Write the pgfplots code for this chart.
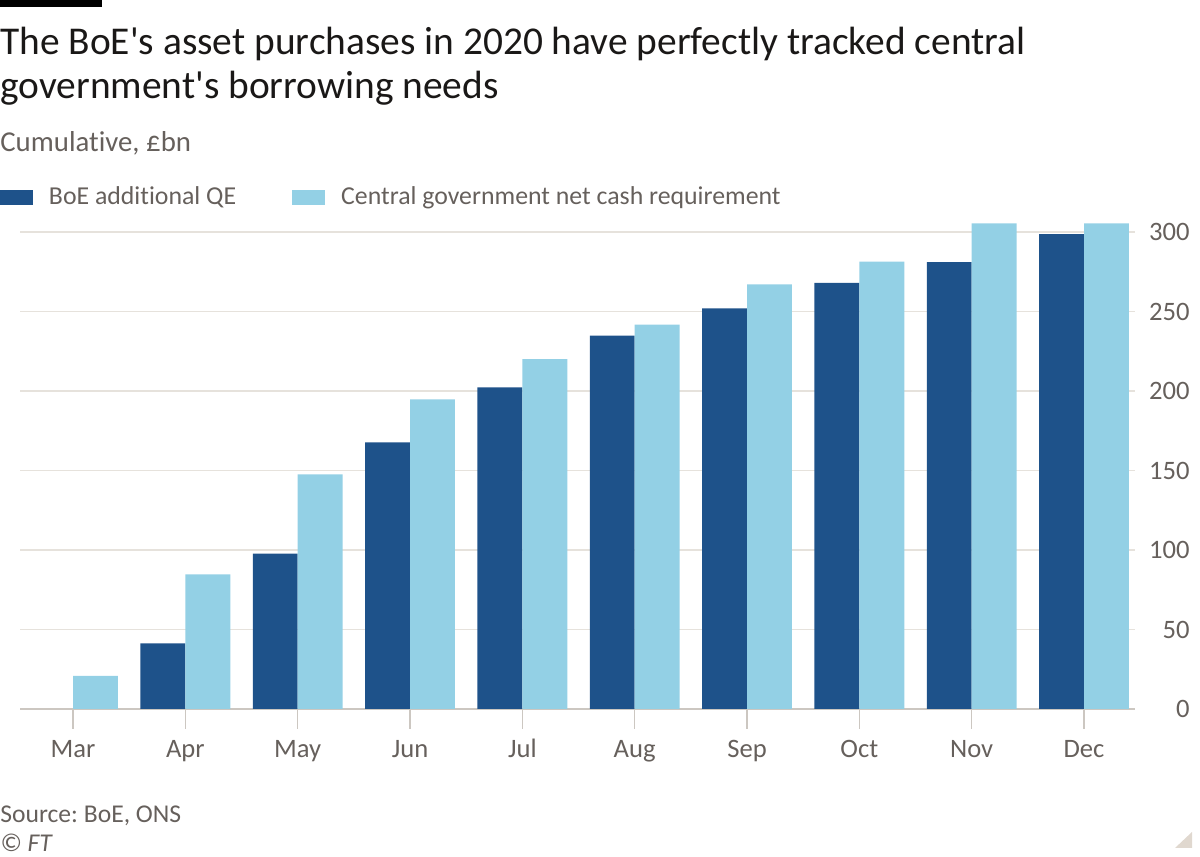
\documentclass[border=0pt]{standalone}
\usepackage{pgfplots}
\pgfplotsset{compat=1.18}
\usepackage{fontspec}
\setmainfont{Carlito}[Ligatures={NoCommon}]
\frenchspacing
\definecolor{qe}{HTML}{1E528A}
\definecolor{cash}{HTML}{93D0E5}
\definecolor{ftgrey}{HTML}{66605C}
\definecolor{ftblack}{HTML}{1A1817}
\definecolor{gridc}{HTML}{E6E2DC}
\definecolor{axisc}{HTML}{CCC7C1}
\definecolor{cornerc}{HTML}{E0D8CF}
\begin{document}
\begin{tikzpicture}
\useasboundingbox (0,0) rectangle (600pt,428.5pt);
\fill[black] (0pt,425pt) rectangle (51pt,428.5pt);
\node[anchor=base west, inner sep=0pt, font=\fontsize{19.7}{24}\selectfont, text=ftblack] at (0pt,401pt) {The BoE\textquotesingle s asset purchases in 2020 have perfectly tracked central};
\node[anchor=base west, inner sep=0pt, font=\fontsize{19.7}{24}\selectfont, text=ftblack] at (0pt,379.35pt) {government\textquotesingle s borrowing needs};
\node[anchor=base west, inner sep=0pt, font=\fontsize{14.4}{17}\selectfont, text=ftgrey] at (0pt,352.5pt) {Cumulative, £bn};
\node[anchor=base west, inner sep=0pt, font=\fontsize{12.8}{15}\selectfont, text=ftgrey] at (0pt,17.15pt) {Source: BoE, ONS};
\node[anchor=base west, inner sep=0pt, font=\fontsize{12.8}{15}\selectfont\itshape, text=ftgrey] at (0pt,2.5pt) {© FT};
\fill[cornerc] (596pt,12.5pt) -- (596pt,4.5pt) -- (587.5pt,4.5pt) -- cycle;
\begin{axis}[
  at={(10pt,74pt)}, anchor=south west,
  scale only axis, width=557.5pt, height=246.45pt,
  xmin=-0.472, xmax=9.454, ymin=0, ymax=310,
  axis x line*=bottom, axis y line*=right,
  x axis line style={draw=axisc, line width=0.6pt, -},
  y axis line style={draw=none},
  ytick={0,50,...,300},
  ymajorgrids, grid style={draw=gridc, line width=0.6pt},
  xtick={0,...,9},
  xticklabels={Mar,Apr,May,Jun,Jul,Aug,Sep,Oct,Nov,Dec},
  xtick align=outside, ytick align=inside,
  major tick length=10pt,
  xtick style={draw=axisc, line width=0.6pt},
  ytick style={draw=none},
  /pgf/number format/assume math mode=true,
  ticklabel style={font=\fontsize{13.3}{15}\selectfont, text=ftgrey},
  xticklabel style={anchor=base, inner sep=0pt, yshift=-14.5pt},
  yticklabel style={anchor=east, inner sep=0pt, xshift=27.5pt},
  ybar, bar width=0.4,
  legend style={at={(-0.01794,1.0377)}, anchor=west, draw=none, fill=none,
    legend columns=-1, inner sep=0pt, outer sep=0pt,
    font=\fontsize{12.9}{15}\selectfont, text=ftgrey,
    nodes={inner sep=0pt},
    /tikz/every odd column/.append style={column sep=8pt},
    /tikz/every even column/.append style={column sep=28pt}},
  legend image code/.code={\fill[#1] (0pt,-3.75pt) rectangle (16.5pt,3.75pt);},
]
\addplot[fill=qe, draw=none, bar shift=-0.2] coordinates {
  (1,41.3) (2,97.7) (3,167.7) (4,202.3) (5,234.8) (6,252.0) (7,268.0) (8,281.0) (9,298.7)};
\addlegendentry{BoE additional QE}
\addplot[fill=cash, draw=none, bar shift=0.2] coordinates {
  (0,20.9) (1,84.7) (2,147.6) (3,194.8) (4,220.0) (5,241.7) (6,267.1) (7,281.3) (8,305.5) (9,305.5)};
\addlegendentry{Central government net cash requirement}
\end{axis}
\end{tikzpicture}
\end{document}
